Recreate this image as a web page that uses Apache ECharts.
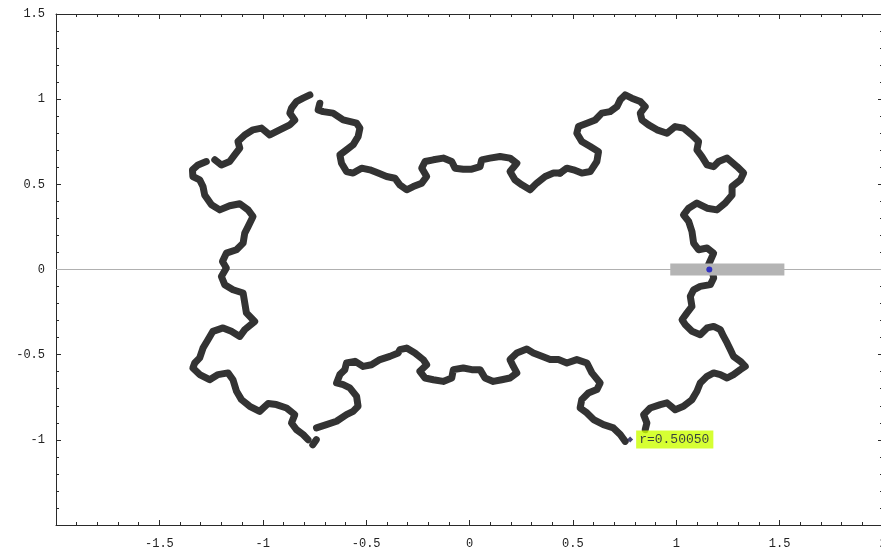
<!DOCTYPE html>
<html>
<head>
<meta charset="utf-8">
<script src="https://cdn.jsdelivr.net/npm/echarts@6/dist/echarts.min.js"></script>
<style>html,body{margin:0;padding:0;background:#fff;overflow:hidden}#c{width:881px;height:552px}</style>
</head>
<body>
<div id="c"></div>
<script>
// Axis ranges / ticks
const xRange = [-2, 2];
const yRange = [-1.5, 1.5];
const tickStep = 0.5;
const hiddenXLabels = [-2];
const hiddenYLabels = [-1.5];

// Curve pieces (data units)
const rightSide = [
[0.850,-0.940],[0.858,-0.901],[0.842,-0.852],[0.874,-0.813],[0.923,-0.793],[0.955,-0.783],[0.995,-0.823],[1.035,-0.803],[1.076,-0.764],[1.100,-0.715],[1.116,-0.666],[1.149,-0.627],[1.181,-0.607],[1.213,-0.617],[1.246,-0.637],[1.277,-0.617],[1.310,-0.588],[1.334,-0.569],[1.310,-0.539],[1.277,-0.510],[1.262,-0.471],[1.246,-0.431],[1.229,-0.393],[1.213,-0.353],[1.181,-0.334],[1.149,-0.343],[1.116,-0.383],[1.076,-0.363],[1.044,-0.324],[1.028,-0.295],[1.052,-0.255],[1.076,-0.217],[1.068,-0.158],[1.084,-0.119],[1.116,-0.099],[1.165,-0.089],[1.181,-0.050],[1.173,-0.001],[1.156,0.028],
[1.181,0.096],[1.149,0.126],[1.108,0.116],[1.084,0.155],[1.076,0.223],[1.060,0.282],[1.035,0.321],[1.060,0.360],[1.100,0.390],[1.149,0.360],[1.197,0.350],[1.237,0.390],[1.270,0.438],[1.270,0.487],[1.310,0.526],[1.326,0.566],[1.294,0.604],[1.246,0.654],[1.205,0.634],[1.181,0.604],[1.149,0.614],[1.124,0.663],[1.100,0.702],[1.108,0.751],[1.076,0.790],[1.035,0.830],[0.995,0.839],[0.955,0.800],[0.907,0.820],[0.866,0.849],[0.834,0.878],[0.826,0.918],[0.850,0.956],[0.826,0.986],[0.785,1.006],[0.753,1.025],[0.729,0.996],[0.713,0.956],[0.680,0.927],[0.640,0.918],[0.608,0.878],[0.568,0.859],[0.527,0.839],[0.519,0.800],[0.543,0.751],[0.584,0.722],[0.624,0.692],[0.616,0.634],[0.584,0.575],[0.543,0.566],[0.503,0.585],[0.471,0.595],[0.438,0.566]
];
const topMiddle = [
[0.438,0.566],[0.406,0.566],[0.366,0.546],[0.325,0.507],[0.293,0.468],[0.253,0.497],[0.220,0.526],[0.196,0.575],[0.229,0.624],[0.196,0.654],[0.148,0.663],[0.099,0.654],[0.059,0.644],[0.051,0.604],[0.011,0.589],[-0.030,0.589],[-0.070,0.595],[-0.086,0.634],[-0.127,0.654],[-0.175,0.644],[-0.215,0.634],[-0.231,0.595],[-0.207,0.546],[-0.231,0.507],[-0.272,0.487],[-0.304,0.468],[-0.337,0.497],[-0.361,0.536],[-0.401,0.546],[-0.442,0.566],[-0.482,0.585],[-0.522,0.595],[-0.563,0.566],[-0.595,0.575],[-0.619,0.624],[-0.627,0.673],[-0.595,0.702],[-0.563,0.732],[-0.539,0.780],[-0.530,0.830],[-0.546,0.859],[-0.611,0.878],[-0.660,0.918],[-0.708,0.927],[-0.732,0.937],[-0.724,0.976]
];
const topLeftTip = [
[-0.772,1.025],[-0.805,1.006],[-0.837,0.986],[-0.861,0.947],[-0.869,0.918],[-0.845,0.878],[-0.869,0.849],[-0.918,0.820],[-0.966,0.790],[-1.006,0.830],[-1.047,0.820],[-1.087,0.790],[-1.120,0.751],[-1.111,0.712],[-1.136,0.673],[-1.160,0.634],[-1.200,0.614],[-1.232,0.644]
];
const leftSide = [
[-1.273,0.634],[-1.313,0.614],[-1.340,0.585],[-1.338,0.546],[-1.305,0.526],[-1.289,0.487],[-1.281,0.438],[-1.248,0.380],[-1.208,0.350],[-1.160,0.374],[-1.111,0.386],[-1.071,0.350],[-1.047,0.311],[-1.071,0.252],[-1.087,0.214],[-1.095,0.155],[-1.127,0.116],[-1.176,0.096],[-1.195,0.047],[-1.176,0.009],[-1.200,-0.041],[-1.184,-0.089],[-1.144,-0.119],[-1.095,-0.138],[-1.087,-0.197],[-1.079,-0.255],[-1.039,-0.305],[-1.087,-0.353],[-1.111,-0.393],[-1.152,-0.363],[-1.192,-0.343],[-1.241,-0.363],[-1.265,-0.412],[-1.289,-0.461],[-1.305,-0.519],[-1.329,-0.549],[-1.338,-0.578],[-1.305,-0.617],[-1.257,-0.647],[-1.216,-0.617],[-1.168,-0.607],[-1.144,-0.647],[-1.127,-0.715],[-1.103,-0.764],[-1.063,-0.803],[-1.015,-0.833],[-0.974,-0.787],[-0.934,-0.793],[-0.885,-0.813],[-0.845,-0.852],[-0.861,-0.901],[-0.837,-0.940],[-0.805,-0.969],[-0.781,-0.999]
];
const bottomLeftBit = [[-0.758,-1.029],[-0.741,-0.999]];
const bottomSide = [
[-0.740,-0.930],[-0.692,-0.911],[-0.643,-0.891],[-0.595,-0.852],[-0.563,-0.833],[-0.539,-0.803],[-0.546,-0.745],[-0.579,-0.695],[-0.611,-0.676],[-0.643,-0.666],[-0.627,-0.617],[-0.603,-0.588],[-0.595,-0.549],[-0.554,-0.539],[-0.514,-0.569],[-0.474,-0.559],[-0.433,-0.529],[-0.385,-0.510],[-0.345,-0.490],[-0.337,-0.471],[-0.304,-0.461],[-0.264,-0.490],[-0.224,-0.529],[-0.207,-0.559],[-0.240,-0.598],[-0.215,-0.637],[-0.175,-0.647],[-0.127,-0.657],[-0.086,-0.637],[-0.078,-0.588],[-0.030,-0.578],[0.011,-0.588],[0.051,-0.588],[0.075,-0.637],[0.115,-0.657],[0.156,-0.647],[0.196,-0.637],[0.229,-0.607],[0.212,-0.569],[0.196,-0.529],[0.229,-0.490],[0.277,-0.467],[0.309,-0.490],[0.350,-0.510],[0.390,-0.529],[0.430,-0.529],[0.471,-0.549],[0.519,-0.529],[0.568,-0.549],[0.592,-0.607],[0.632,-0.666],[0.616,-0.705],[0.575,-0.725],[0.543,-0.764],[0.535,-0.813],[0.568,-0.842],[0.600,-0.881],[0.648,-0.911],[0.696,-0.930],[0.729,-0.969],[0.753,-1.009]
];

// Other marks
const zeroLine = [[-2, 0], [2, 0]];
const sliderBar = [[0.971, 0], [1.523, 0]];
const sliderKnob = [[1.160, 0]];
const rPoint = [[0.777, -0.998]];
const rLabel = 'r=0.50050';

const mono = '"Liberation Mono", "DejaVu Sans Mono", monospace';
function fmt(v){ return (Math.round(v*10)/10).toString(); }

const axisCommon = {
  type: 'value',
  interval: tickStep,
  axisLine: { show: true, onZero: false, lineStyle: { color: '#2a2a2a', width: 1 } },
  axisTick: { show: true, inside: true, length: 5, lineStyle: { color: '#2a2a2a' } },
  minorTick: { show: true, splitNumber: 5, length: 3, lineStyle: { color: '#2a2a2a' } },
  splitLine: { show: false },
  minorSplitLine: { show: false }
};

function curveSeries(data){
  return {
    type: 'line', data: data, showSymbol: false, symbol: 'none',
    lineStyle: { color: '#333333', width: 7, cap: 'round', join: 'round' },
    z: 3, silent: true, animation: false
  };
}

const chart = echarts.init(document.getElementById('c'), null, { renderer: 'canvas' });
chart.setOption({
  animation: false,
  backgroundColor: '#ffffff',
  grid: { left: 56, top: 14, width: 827, height: 511, containLabel: false, outerBoundsMode: 'none' },
  xAxis: [
    Object.assign({}, axisCommon, {
      min: xRange[0], max: xRange[1], position: 'bottom',
      axisLabel: { show: true, margin: 13, color: '#222', fontFamily: mono, fontSize: 12,
        formatter: v => hiddenXLabels.some(h => Math.abs(h - v) < 1e-9) ? '' : fmt(v) }
    }),
    Object.assign({}, axisCommon, {
      min: xRange[0], max: xRange[1], position: 'top', axisLabel: { show: false }
    })
  ],
  yAxis: [
    Object.assign({}, axisCommon, {
      min: yRange[0], max: yRange[1], position: 'left',
      axisLabel: { show: true, margin: 11, color: '#222', fontFamily: mono, fontSize: 12,
        formatter: v => hiddenYLabels.some(h => Math.abs(h - v) < 1e-9) ? '' : fmt(v) }
    }),
    Object.assign({}, axisCommon, {
      min: yRange[0], max: yRange[1], position: 'right', axisLabel: { show: false }
    })
  ],
  series: [
    { type: 'line', data: zeroLine, symbol: 'none', lineStyle: { color: '#b0b0b0', width: 1 }, z: 1, silent: true },
    curveSeries(rightSide),
    curveSeries(topMiddle),
    curveSeries(topLeftTip),
    curveSeries(leftSide),
    curveSeries(bottomLeftBit),
    curveSeries(bottomSide),
    { type: 'line', data: sliderBar, symbol: 'none', lineStyle: { color: '#b4b4b4', width: 12, cap: 'butt' }, z: 5, silent: true },
    { type: 'scatter', data: sliderKnob, symbol: 'circle', symbolSize: 6, itemStyle: { color: '#1010c8' }, z: 6, silent: true },
    { type: 'scatter', data: rPoint, symbol: 'diamond', symbolSize: 6, itemStyle: { color: '#1a1a50' }, z: 6, silent: true,
      label: { show: true, position: 'right', distance: 3, formatter: rLabel, fontFamily: mono, fontSize: 13,
        color: '#101040', backgroundColor: '#ccff00', padding: [3, 4, 2, 3] } }
  ]
});
</script>
</body>
</html>
